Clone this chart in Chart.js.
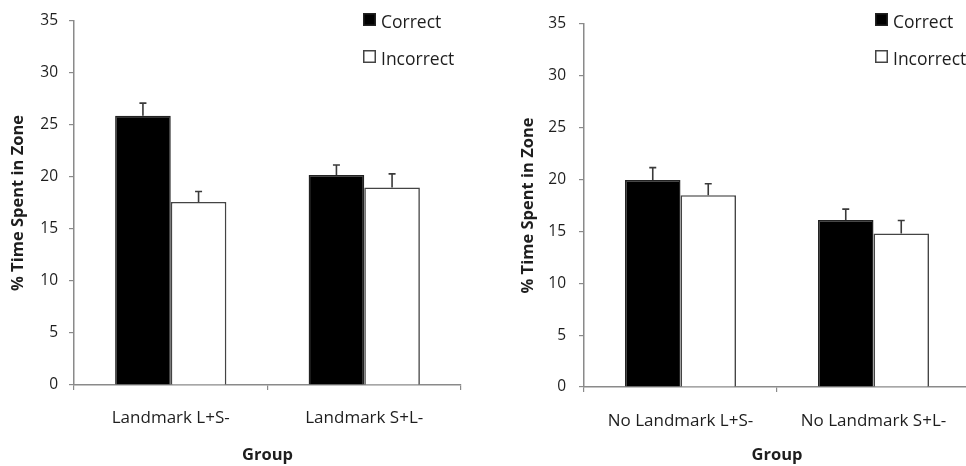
<!DOCTYPE html>
<html>
<head>
<meta charset="utf-8">
<script src="https://cdn.jsdelivr.net/npm/chart.js@4.4.1/dist/chart.umd.min.js"></script>
<style>
  html, body { margin: 0; padding: 0; background: #fff; overflow: hidden; width: 966px; height: 466px; }
  #wrapL { position: absolute; left: 0; top: 0; width: 483px; height: 466px; }
  #wrapR { position: absolute; left: 486px; top: 0; width: 490px; height: 466px; }
</style>
</head>
<body>
<div id="wrapL"><canvas id="cL" width="483" height="466"></canvas></div>
<div id="wrapR"><canvas id="cR" width="490" height="466"></canvas></div>
<script>
// ---- data ----
const seriesNames = ['Correct', 'Incorrect'];
const leftCategories = ['Landmark L+S-', 'Landmark S+L-'];
const rightCategories = ['No Landmark L+S-', 'No Landmark S+L-'];
const leftCorrect = [25.9, 20.2];
const leftCorrectErr = [1.2, 0.95];
const leftIncorrect = [17.6, 19.0];
const leftIncorrectErr = [1.0, 1.3];
const rightCorrect = [19.95, 16.1];
const rightCorrectErr = [1.2, 1.05];
const rightIncorrect = [18.5, 14.8];
const rightIncorrectErr = [1.1, 1.25];
const yMin = 0, yMax = 35, yStep = 5;
const yTitle = '% Time Spent in Zone';
const xTitle = 'Group';

const FONT = "'Open Sans', 'DejaVu Sans', sans-serif";
const AXIS = '#8a8a8a';
const TEXT = '#1e1e1e';

const errorBars = {
  id: 'errorBars',
  afterDatasetsDraw(chart) {
    const ctx = chart.ctx;
    const ys = chart.scales.y;
    ctx.save();
    ctx.strokeStyle = '#3a3a3a';
    ctx.lineWidth = 1.6;
    chart.data.datasets.forEach((ds, di) => {
      const meta = chart.getDatasetMeta(di);
      meta.data.forEach((bar, i) => {
        const top = ys.getPixelForValue(ds.data[i] + ds.errors[i]);
        ctx.beginPath();
        ctx.moveTo(bar.x, bar.y);
        ctx.lineTo(bar.x, top);
        ctx.moveTo(bar.x - 3.5, top);
        ctx.lineTo(bar.x + 3.5, top);
        ctx.stroke();
      });
    });
    ctx.restore();
  }
};

const boxLegend = {
  id: 'boxLegend',
  afterDraw(chart, args, opts) {
    const ctx = chart.ctx;
    ctx.save();
    ctx.font = '17.5px ' + FONT;
    ctx.textBaseline = 'alphabetic';
    ctx.textAlign = 'left';
    chart.data.datasets.forEach((ds, i) => {
      const y = opts.y + i * opts.gap;
      ctx.fillStyle = ds.backgroundColor;
      ctx.fillRect(opts.x, y, 13, 13);
      ctx.strokeStyle = ds.borderColor;
      ctx.lineWidth = 1.5;
      ctx.strokeRect(opts.x + 0.75, y + 0.75, 11.5, 11.5);
      ctx.fillStyle = TEXT;
      ctx.fillText(ds.label, opts.x + 18, y + 14.5);
    });
    ctx.restore();
  }
};

function makeChart(id, cats, cVals, cErr, iVals, iErr, cfg) {
  return new Chart(document.getElementById(id), {
    type: 'bar',
    data: {
      labels: cats,
      datasets: [
        { label: seriesNames[0], data: cVals, errors: cErr, backgroundColor: '#000000', borderColor: '#222222', borderWidth: 1.5, barPercentage: 1, categoryPercentage: 0.575 },
        { label: seriesNames[1], data: iVals, errors: iErr, backgroundColor: '#ffffff', borderColor: '#444444', borderWidth: 1.6, barPercentage: 1, categoryPercentage: 0.575 }
      ]
    },
    options: {
      responsive: false,
      animation: false,
      layout: { padding: { left: 0, top: cfg.top, right: cfg.right, bottom: 0 } },
      plugins: {
        legend: { display: false },
        tooltip: { enabled: false },
        boxLegend: { x: cfg.legX, y: 13, gap: 37 }
      },
      scales: {
        x: {
          offset: true,
          grid: { display: true, drawOnChartArea: false, drawTicks: true, tickLength: 5, color: AXIS, offset: true, lineWidth: 1.2 },
          border: { display: true, color: AXIS, width: 1.5 },
          ticks: { font: { family: FONT, size: 17 }, color: TEXT, padding: cfg.xPad },
          title: { display: true, text: xTitle, font: { family: FONT, size: 16.5, weight: 'bold' }, color: TEXT, padding: { top: 0, bottom: 1 } },
          afterFit(s) { s.height = cfg.xH; }
        },
        y: {
          min: yMin, max: yMax,
          grid: { display: true, drawOnChartArea: false, drawTicks: true, tickLength: 5, color: AXIS, lineWidth: 1.2 },
          border: { display: true, color: AXIS, width: 1.5 },
          ticks: { stepSize: yStep, font: { family: FONT, size: 15.5 }, color: TEXT, padding: cfg.yPad },
          title: { display: true, text: yTitle, font: { family: FONT, size: 16.5, weight: 'bold' }, color: TEXT, padding: { top: cfg.tPad, bottom: 0 } },
          afterFit(s) { s.width = cfg.yW; }
        }
      }
    },
    plugins: [errorBars, boxLegend]
  });
}

makeChart('cL', leftCategories, leftCorrect, leftCorrectErr, leftIncorrect, leftIncorrectErr,
  { top: 21, right: 22, xH: 81, yW: 74, xPad: 17.5, yPad: 11, tPad: 8, legX: 363 });
makeChart('cR', rightCategories, rightCorrect, rightCorrectErr, rightIncorrect, rightIncorrectErr,
  { top: 24, right: 6, xH: 79, yW: 98, xPad: 19, yPad: 13, tPad: 32.7, legX: 389 });
</script>
</body>
</html>
